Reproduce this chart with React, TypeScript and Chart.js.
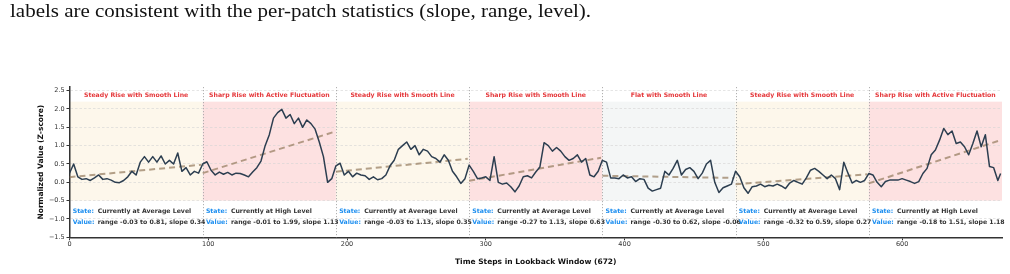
import React, { useEffect, useRef } from "react";
import { Chart, registerables } from "chart.js";

Chart.register(...registerables);

const CAPTION = "labels are consistent with the per-patch statistics (slope, range, level).";

const patchStarts = [0, 96, 192, 288, 384, 480, 576];
const PATCH_LEN = 96;
const patchKinds = ["steady", "sharp", "steady", "sharp", "flat", "steady", "sharp"];
const patchTitles = [
  "Steady Rise with Smooth Line",
  "Sharp Rise with Active Fluctuation",
  "Steady Rise with Smooth Line",
  "Sharp Rise with Smooth Line",
  "Flat with Smooth Line",
  "Steady Rise with Smooth Line",
  "Sharp Rise with Active Fluctuation",
];
const stateTexts = [
  "Currently at Average Level",
  "Currently at High Level",
  "Currently at Average Level",
  "Currently at Average Level",
  "Currently at Average Level",
  "Currently at Average Level",
  "Currently at High Level",
];
const valueTexts = [
  "range -0.03 to 0.81, slope 0.34",
  "range -0.01 to 1.99, slope 1.13",
  "range -0.03 to 1.13, slope 0.35",
  "range -0.27 to 1.13, slope 0.63",
  "range -0.30 to 0.62, slope -0.06",
  "range -0.32 to 0.59, slope 0.27",
  "range -0.18 to 1.51, slope 1.18",
];
const trendStart = [0.14, 0.25, 0.29, 0.04, 0.18, -0.05, -0.03];
const trendEnd = [0.48, 1.38, 0.64, 0.67, 0.12, 0.22, 1.15];

// normalized series, sampled every 3 time steps (last point at step 671)
const SAMPLE = 3;
const LAST_STEP = 671;
const series = [
  // patch 1
  0.25, 0.5, 0.15, 0.08, 0.1, 0.05, 0.12, 0.2, 0.08, 0.1, 0.06, 0.0, -0.01, 0.05, 0.15, 0.3,
  0.2, 0.55, 0.7, 0.55, 0.7, 0.55, 0.72, 0.5, 0.6, 0.5, 0.8, 0.3, 0.4, 0.2, 0.3, 0.25,
  // patch 2
  0.5, 0.56, 0.33, 0.2, 0.28, 0.22, 0.27, 0.2, 0.25, 0.24, 0.2, 0.15, 0.28, 0.4, 0.58, 1.0,
  1.3, 1.75, 1.9, 1.99, 1.75, 1.85, 1.6, 1.75, 1.5, 1.7, 1.6, 1.45, 1.1, 0.7, 0.0, 0.1,
  // patch 3
  0.45, 0.52, 0.2, 0.3, 0.15, 0.25, 0.2, 0.18, 0.08, 0.15, 0.07, 0.1, 0.2, 0.45, 0.6, 0.9,
  1.0, 1.1, 0.9, 1.0, 0.75, 0.9, 0.85, 0.7, 0.65, 0.55, 0.75, 0.6, 0.3, 0.15, -0.03, 0.1,
  // patch 4
  0.47, 0.3, 0.1, 0.12, 0.15, 0.05, 0.7, 0.0, -0.05, -0.02, -0.12, -0.26, -0.1, 0.15, 0.18, 0.12,
  0.28, 0.42, 1.08, 1.0, 0.85, 0.95, 0.85, 0.7, 0.6, 0.65, 0.75, 0.55, 0.65, 0.2, 0.15, 0.3,
  // patch 5
  0.6, 0.55, 0.12, 0.12, 0.1, 0.2, 0.12, 0.15, 0.02, 0.1, 0.08, -0.16, -0.24, -0.2, -0.16, 0.3,
  0.2, 0.38, 0.6, 0.2, 0.35, 0.4, 0.3, 0.1, 0.25, 0.5, 0.6, 0.0, -0.28, -0.15, -0.1, -0.05,
  // patch 6
  0.3, 0.15, -0.15, -0.3, -0.12, -0.1, -0.05, -0.12, -0.08, -0.1, -0.05, -0.1, -0.17, -0.02, 0.05, 0.0,
  -0.05, 0.12, 0.33, 0.38, 0.3, 0.2, 0.1, 0.2, 0.1, -0.2, 0.55, 0.25, -0.02, 0.05, 0.0, 0.05,
  // patch 7
  0.24, 0.2, 0.0, -0.12, 0.02, 0.06, 0.06, 0.06, 0.1, 0.06, 0.02, -0.03, 0.02, 0.24, 0.38, 0.75,
  0.88, 1.15, 1.47, 1.3, 1.4, 1.06, 1.1, 0.97, 0.75, 1.06, 1.4, 0.97, 1.3, 0.43, 0.4, 0.05,
  0.24,
];

const xTicks = [0, 100, 200, 300, 400, 500, 600];
const yTicks = [-1.5, -1.0, -0.5, 0.0, 0.5, 1.0, 1.5, 2.0, 2.5];

const X_MIN = 0;
const X_MAX = 672;
const Y_MIN = -1.5;
const Y_MAX = 2.6;

const kindFill: Record<string, string> = {
  steady: "#fdf7eb",
  sharp: "#fde1e1",
  flat: "#f4f6f6",
};

const fmtY = (v: number) => (v < 0 ? "\u2212" : "") + Math.abs(v).toFixed(1);

const decorPlugin = {
  id: "decor",
  beforeDraw(chart: any) {
    const { ctx, scales } = chart;
    const x = scales.x;
    const y = scales.y;
    ctx.save();
    ctx.fillStyle = "#ffffff";
    ctx.fillRect(0, 0, chart.width, chart.height);
    const yTop = y.getPixelForValue(2.2);
    const yBot = y.getPixelForValue(-0.5);
    patchStarts.forEach((s, i) => {
      const x0 = x.getPixelForValue(s);
      const x1 = x.getPixelForValue(Math.min(s + PATCH_LEN, X_MAX));
      ctx.fillStyle = kindFill[patchKinds[i]];
      ctx.fillRect(x0, yTop, x1 - x0, yBot - yTop);
    });
    ctx.restore();
  },
  beforeDatasetsDraw(chart: any) {
    const { ctx, chartArea, scales } = chart;
    const x = scales.x;
    ctx.save();
    ctx.strokeStyle = "#a8a8a8";
    ctx.lineWidth = 0.9;
    ctx.setLineDash([1.2, 1.8]);
    patchStarts.slice(1).forEach((s) => {
      const px = Math.round(x.getPixelForValue(s)) + 0.5;
      ctx.beginPath();
      ctx.moveTo(px, chartArea.top);
      ctx.lineTo(px, chartArea.bottom);
      ctx.stroke();
    });
    ctx.restore();
  },
  afterDraw(chart: any) {
    const { ctx, scales } = chart;
    const x = scales.x;
    const y = scales.y;
    ctx.save();
    ctx.textBaseline = "middle";
    ctx.font = "bold 6.2px 'DejaVu Sans'";
    const titleY = y.getPixelForValue(2.37);
    const stateY = y.getPixelForValue(-0.78);
    const valueY = y.getPixelForValue(-1.08);
    patchStarts.forEach((s, i) => {
      const cx = x.getPixelForValue(s + PATCH_LEN / 2);
      ctx.textAlign = "center";
      ctx.fillStyle = "#e5383b";
      ctx.fillText(patchTitles[i], cx, titleY);
      const lx = x.getPixelForValue(s) + 3.2;
      const tx = x.getPixelForValue(s) + 28.2;
      ctx.textAlign = "left";
      ctx.fillStyle = "#1e8ff0";
      ctx.fillText("State:", lx, stateY);
      ctx.fillText("Value:", lx, valueY);
      ctx.fillStyle = "#333333";
      ctx.fillText(stateTexts[i], tx, stateY);
      ctx.fillText(valueTexts[i], tx, valueY);
    });
    // caption above figure (fitted to the width it has in the page)
    ctx.font = "19px 'Liberation Serif'";
    ctx.fillStyle = "#111111";
    ctx.textAlign = "left";
    ctx.textBaseline = "alphabetic";
    const w = ctx.measureText(CAPTION).width;
    const targetW = 581;
    ctx.translate(10, 17);
    ctx.scale(targetW / w, 1);
    ctx.fillText(CAPTION, 0, 0);
    ctx.restore();
  },
};

export default function App() {
  const canvasRef = useRef<HTMLCanvasElement | null>(null);

  useEffect(() => {
    const canvas = canvasRef.current;
    if (!canvas) return;

    const mainPoints = series.map((v, i) => ({ x: Math.min(i * SAMPLE, LAST_STEP), y: v }));
    const trendSets = patchStarts.map((s, i) => ({
      label: "trend " + (i + 1),
      data: [
        { x: s, y: trendStart[i] },
        { x: s + PATCH_LEN - 1, y: trendEnd[i] },
      ],
      borderColor: "rgba(150,125,95,0.72)",
      borderWidth: 2,
      borderDash: [6, 4],
      pointRadius: 0,
      fill: false,
    }));

    const chart = new Chart(canvas, {
      type: "line",
      data: {
        datasets: [
          {
            label: "series",
            data: mainPoints,
            borderColor: "#2c3e50",
            borderWidth: 1.5,
            pointRadius: 0,
            fill: false,
            borderJoinStyle: "round",
          } as any,
          ...(trendSets as any[]),
        ],
      },
      options: {
        animation: false,
        responsive: false,
        devicePixelRatio: 1,
        layout: { padding: { top: 87, left: 34.5, right: 8, bottom: 3 } },
        plugins: { legend: { display: false }, tooltip: { enabled: false } },
        elements: { point: { radius: 0 }, line: { tension: 0 } },
        scales: {
          x: {
            type: "linear",
            min: X_MIN,
            max: X_MAX,
            afterBuildTicks: (s: any) => {
              s.ticks = xTicks.map((v) => ({ value: v }));
            },
            afterFit: (s: any) => {
              s.height = 33.7;
            },
            ticks: {
              font: { family: "'DejaVu Sans'", size: 6.5 },
              color: "#333333",
              padding: 0,
              maxRotation: 0,
              callback: (v: any) => String(v),
            },
            grid: {
              drawOnChartArea: false,
              drawTicks: true,
              tickLength: 3,
              tickColor: "#333333",
              tickWidth: 1,
            },
            border: { display: true, color: "#333333", width: 1.5 },
            title: {
              display: true,
              text: "Time Steps in Lookback Window (672)",
              font: { family: "'DejaVu Sans'", size: 7.5, weight: "bold" },
              color: "#111111",
              padding: { top: 0, bottom: 4.8 },
            },
          },
          y: {
            type: "linear",
            min: Y_MIN,
            max: Y_MAX,
            afterBuildTicks: (s: any) => {
              s.ticks = yTicks.map((v) => ({ value: v }));
            },
            afterFit: (s: any) => {
              s.width = 35;
            },
            ticks: {
              font: { family: "'DejaVu Sans'", size: 6.5 },
              color: "#333333",
              padding: 1.8,
              callback: (v: any) => fmtY(Number(v)),
            },
            grid: {
              drawOnChartArea: true,
              color: "#d4d4d4",
              lineWidth: 0.6,
              drawTicks: true,
              tickLength: 3,
              tickColor: "#333333",
              tickWidth: 1,
            },
            border: { display: true, color: "#333333", width: 1.5, dash: [2.5, 2] },
            title: {
              display: true,
              text: "Normalized Value (Z-score)",
              font: { family: "'DejaVu Sans'", size: 7.5, weight: "bold" },
              color: "#111111",
              padding: { top: 2, bottom: 0 },
            },
          },
        },
      } as any,
      plugins: [decorPlugin],
    });

    return () => chart.destroy();
  }, []);

  return (
    <div style={{ position: "absolute", left: 0, top: 0, width: 1010, height: 274, background: "#fff" }}>
      <canvas ref={canvasRef} width={1010} height={274} style={{ display: "block", width: 1010, height: 274 }} />
    </div>
  );
}
